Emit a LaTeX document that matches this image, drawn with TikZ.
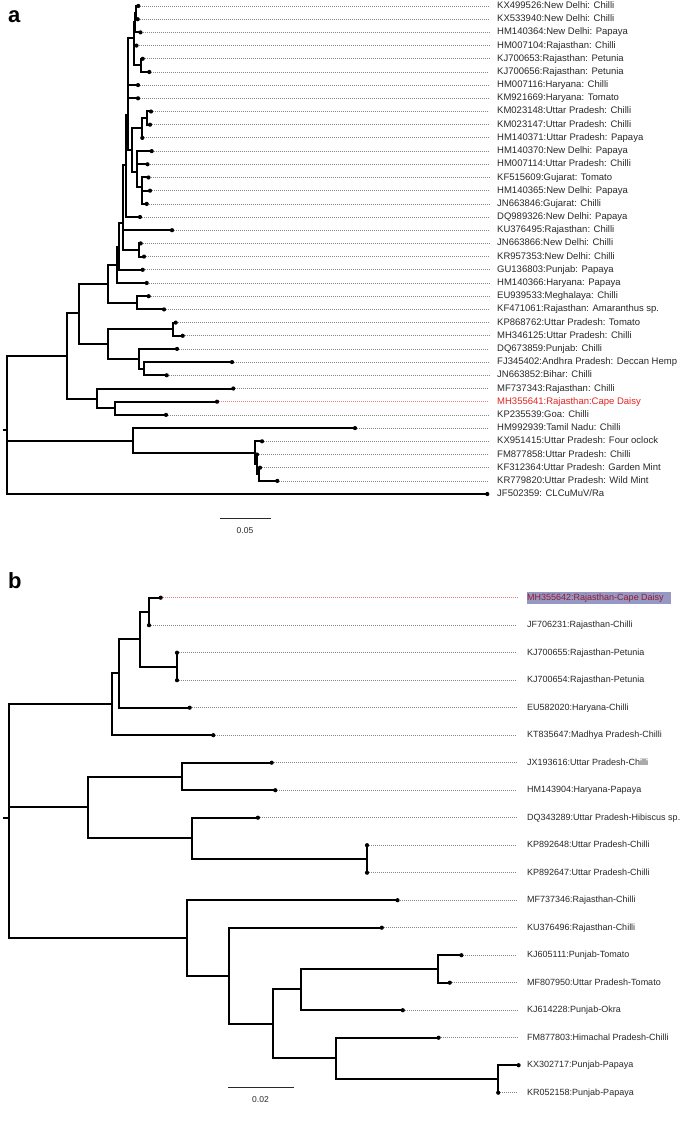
\documentclass[tikz,border=0pt]{standalone}
\usepackage{fontspec}
\setmainfont{Liberation Sans}
\definecolor{redlab}{RGB}{225,35,35}
\definecolor{reddot}{RGB}{235,130,130}
\definecolor{hlbox}{RGB}{150,152,196}
\definecolor{hltext}{RGB}{150,25,45}
\definecolor{dotgray}{RGB}{135,135,135}
\definecolor{labgray}{RGB}{40,40,40}
\tikzset{
 br/.style={line width=2pt, line join=miter},
 dots/.style={dotgray, line width=0.8pt, dash pattern=on 0.8pt off 1.2pt},
 laba/.style={anchor=west, inner xsep=8pt, inner ysep=0pt, text height=7pt, text depth=2pt, font=\fontsize{9.5}{11}\selectfont, text=labgray},
 labb/.style={anchor=west, inner xsep=10pt, inner ysep=0pt, text height=6.6pt, text depth=1.9pt, font=\fontsize{9}{10}\selectfont, text=labgray},
 panel/.style={anchor=north west, inner sep=0pt, font=\fontsize{22}{24}\selectfont\bfseries},
 scalelab/.style={font=\fontsize{8.5}{10}\selectfont, text=labgray, inner sep=0pt},
 sbar/.style={line width=0.9pt, labgray},
 hlstyle/.style={anchor=west, fill=hlbox, inner sep=0pt, minimum width=144pt, minimum height=12.3pt}
}
\newcommand\leafa[4]{\coordinate (#1) at (#2,#3); \node[laba] (l#1) at (489,#3) {#4}; \draw[dots] (#1) -- (l#1.west);}
\newcommand\leafb[4]{\coordinate (#1) at (#2,#3); \node[labb] (l#1) at (517,#3) {#4}; \draw[dots] (#1) -- (l#1.west);}
\begin{document}
\begin{tikzpicture}[x=1pt,y=-1pt]
\useasboundingbox (0,0) rectangle (685,1134);
\node[panel] (pa) at (8,10) {a};
\node[panel] (pb) at (8,572.5) {b};
% ---------- tree a leaves
\leafa{a0}{138.3}{6.0}{KX499526:New Delhi: Chilli}
\leafa{a1}{137.7}{19.2}{KX533940:New Delhi: Chilli}
\leafa{a2}{140.5}{32.4}{HM140364:New Delhi: Papaya}
\leafa{a3}{136.5}{45.6}{HM007104:Rajasthan: Chilli}
\leafa{a4}{142.7}{58.8}{KJ700653:Rajasthan: Petunia}
\leafa{a5}{149.3}{72.0}{KJ700656:Rajasthan: Petunia}
\leafa{a6}{138}{85.1}{HM007116:Haryana: Chilli}
\leafa{a7}{138}{98.3}{KM921669:Haryana: Tomato}
\leafa{a8}{151}{111.5}{KM023148:Uttar Pradesh: Chilli}
\leafa{a9}{150}{124.7}{KM023147:Uttar Pradesh: Chilli}
\leafa{a10}{142.3}{137.9}{HM140371:Uttar Pradesh: Papaya}
\leafa{a11}{151.7}{151.1}{HM140370:New Delhi: Papaya}
\leafa{a12}{147.5}{164.3}{HM007114:Uttar Pradesh: Chilli}
\leafa{a13}{148.5}{177.5}{KF515609:Gujarat: Tomato}
\leafa{a14}{150}{190.7}{HM140365:New Delhi: Papaya}
\leafa{a15}{146.7}{203.9}{JN663846:Gujarat: Chilli}
\leafa{a16}{140}{217.0}{DQ989326:New Delhi: Papaya}
\leafa{a17}{172}{230.2}{KU376495:Rajasthan: Chilli}
\leafa{a18}{140.7}{243.4}{JN663866:New Delhi: Chilli}
\leafa{a19}{144}{256.6}{KR957353:New Delhi: Chilli}
\leafa{a20}{142.7}{269.8}{GU136803:Punjab: Papaya}
\leafa{a21}{146.7}{283.0}{HM140366:Haryana: Papaya}
\leafa{a22}{148.7}{296.2}{EU939533:Meghalaya: Chilli}
\leafa{a23}{164}{309.4}{KF471061:Rajasthan: Amaranthus sp.}
\leafa{a24}{175.7}{322.6}{KP868762:Uttar Pradesh: Tomato}
\leafa{a25}{182.7}{335.8}{MH346125:Uttar Pradesh: Chilli}
\leafa{a26}{177}{348.9}{DQ673859:Punjab: Chilli}
\leafa{a27}{232}{362.1}{FJ345402:Andhra Pradesh: Deccan Hemp}
\leafa{a28}{166.7}{375.3}{JN663852:Bihar: Chilli}
\leafa{a29}{233.3}{388.5}{MF737343:Rajasthan: Chilli}
\coordinate (a30) at (217,401.7);
\node[laba,text=redlab] (la30) at (489,401.7) {MH355641:Rajasthan:Cape Daisy};
\draw[dots,reddot] (a30) -- (la30.west);
\leafa{a31}{166}{414.9}{KP235539:Goa: Chilli}
\leafa{a32}{355}{428.1}{HM992939:Tamil Nadu: Chilli}
\leafa{a33}{262}{441.3}{KX951415:Uttar Pradesh: Four oclock}
\leafa{a34}{257}{454.5}{FM877858:Uttar Pradesh: Chilli}
\leafa{a35}{260}{467.7}{KF312364:Uttar Pradesh: Garden Mint}
\leafa{a36}{277.3}{480.9}{KR779820:Uttar Pradesh: Wild Mint}
\leafa{a37}{487.3}{494.0}{JF502359: CLCuMuV/Ra}
% ---------- tree a internal nodes
\coordinate (rA) at (7.3,430);
\coordinate (rAs) at (2.5,430);
\coordinate (nA) at (66.7,356);
\coordinate (nB) at (79,313);
\coordinate (nC) at (96.7,398.7);
\coordinate (nD) at (108.3,284);
\coordinate (nE) at (108.3,344);
\coordinate (nF) at (116.7,265);
\coordinate (nG) at (136.7,302.8);
\coordinate (nX) at (119.3,246.7);
\coordinate (nV) at (123,223);
\coordinate (nW) at (139.3,250);
\coordinate (nU) at (125.5,165);
\coordinate (nP) at (128.3,115);
\coordinate (nQ) at (133.5,38.3);
\coordinate (nQb) at (134.5,22);
\coordinate (nQa) at (135.5,12.6);
\coordinate (nQc) at (140.5,65.4);
\coordinate (nT) at (131.7,150);
\coordinate (nK) at (141.7,128.3);
\coordinate (nKa) at (147.3,118.1);
\coordinate (nR) at (136.7,171.7);
\coordinate (nS) at (142.3,187.3);
\coordinate (nY) at (172.7,329.2);
\coordinate (nZ) at (139.3,359);
\coordinate (nZa) at (144.3,368.7);
\coordinate (nCC) at (114.7,408.3);
\coordinate (nM) at (132.7,441.3);
\coordinate (nN) at (255,452.7);
\coordinate (nNa) at (257,464.3);
\coordinate (nNb) at (259.3,474.3);
\begin{scope}[br]
\draw (rAs) -- (rA);
\draw (rA) |- (nA); \draw (rA) |- (nM); \draw (rA) |- (a37);
\draw (nA) |- (nB); \draw (nA) |- (nC);
\draw (nB) |- (nD); \draw (nB) |- (nE);
\draw (nD) |- (nF); \draw (nD) |- (nG);
\draw (nG) |- (a22); \draw (nG) |- (a23);
\draw (nF) |- (nX); \draw (nF) |- (a21);
\draw (nX) |- (nV); \draw (nX) |- (a20);
\draw (nV) |- (nU); \draw (nV) |- (a17); \draw (nV) |- (nW);
\draw (nW) |- (a18); \draw (nW) |- (a19);
\draw (nU) |- (nP); \draw (nU) |- (a16);
\draw (nP) |- (nQ); \draw (nP) |- (a6); \draw (nP) |- (a7); \draw (nP) |- (nT);
\draw (nQ) |- (nQb); \draw (nQ) |- (a3); \draw (nQ) |- (nQc);
\draw (nQb) |- (nQa); \draw (nQb) |- (a2);
\draw (nQa) |- (a0); \draw (nQa) |- (a1);
\draw (nQc) |- (a4); \draw (nQc) |- (a5);
\draw (nT) |- (nK); \draw (nT) |- (nR);
\draw (nK) |- (nKa); \draw (nK) |- (a10);
\draw (nKa) |- (a8); \draw (nKa) |- (a9);
\draw (nR) |- (a11); \draw (nR) |- (a12); \draw (nR) |- (nS);
\draw (nS) |- (a13); \draw (nS) |- (a14); \draw (nS) |- (a15);
\draw (nE) |- (nY); \draw (nE) |- (nZ);
\draw (nY) |- (a24); \draw (nY) |- (a25);
\draw (nZ) |- (a26); \draw (nZ) |- (nZa);
\draw (nZa) |- (a27); \draw (nZa) |- (a28);
\draw (nC) |- (a29); \draw (nC) |- (nCC);
\draw (nCC) |- (a30); \draw (nCC) |- (a31);
\draw (nM) |- (a32); \draw (nM) |- (nN);
\draw (nN) |- (a33); \draw (nN) |- (nNa);
\draw (nNa) |- (a34); \draw (nNa) |- (nNb);
\draw (nNb) |- (a35); \draw (nNb) |- (a36);
\end{scope}
\foreach \t in {a0,a1,a2,a3,a4,a5,a6,a7,a8,a9,a10,a11,a12,a13,a14,a15,a16,a17,a18,a19,a20,a21,a22,a23,a24,a25,a26,a27,a28,a29,a30,a31,a32,a33,a34,a35,a36,a37}
  \fill (\t) circle (2.1pt);
% scale bar a
\coordinate (sa1) at (219.5,518.5);
\coordinate (sa2) at (270.5,518.5);
\draw[sbar] (sa1) -- (sa2);
\node[scalelab] (sla) at (245,531) {0.05};
% ---------- tree b leaves
\coordinate (b0) at (160.7,597.7);
\node[hlstyle] (hlb) at (526.7,597.8) {};
\node[labb,text=hltext] (lb0) at (517,597.7) {MH355642:Rajasthan-Cape Daisy};
\draw[dots,reddot] (b0) -- (lb0.west);
\leafb{b1}{149}{625.2}{JF706231:Rajasthan-Chilli}
\leafb{b2}{177}{652.7}{KJ700655:Rajasthan-Petunia}
\leafb{b3}{177}{680.2}{KJ700654:Rajasthan-Petunia}
\leafb{b4}{189.7}{707.7}{EU582020:Haryana-Chilli}
\leafb{b5}{213.3}{735.2}{KT835647:Madhya Pradesh-Chilli}
\leafb{b6}{271.7}{762.7}{JX193616:Uttar Pradesh-Chilli}
\leafb{b7}{275.3}{790.2}{HM143904:Haryana-Papaya}
\leafb{b8}{257.9}{817.7}{DQ343289:Uttar Pradesh-Hibiscus sp.}
\leafb{b9}{367}{845.2}{KP892648:Uttar Pradesh-Chilli}
\leafb{b10}{367}{872.7}{KP892647:Uttar Pradesh-Chilli}
\leafb{b11}{397.5}{900.2}{MF737346:Rajasthan-Chilli}
\leafb{b12}{381.8}{927.7}{KU376496:Rajasthan-Chilli}
\leafb{b13}{461.4}{955.2}{KJ605111:Punjab-Tomato}
\leafb{b14}{449.8}{982.7}{MF807950:Uttar Pradesh-Tomato}
\leafb{b15}{402.8}{1010.2}{KJ614228:Punjab-Okra}
\leafb{b16}{438.6}{1037.7}{FM877803:Himachal Pradesh-Chilli}
\leafb{b17}{518.6}{1065.2}{KX302717:Punjab-Papaya}
\leafb{b18}{498.2}{1092.7}{KR052158:Punjab-Papaya}
% ---------- tree b internal nodes
\coordinate (rB) at (8.8,818);
\coordinate (rBs) at (3.2,818);
\coordinate (nb05) at (112.3,704.3);
\coordinate (nb04) at (119.3,673.3);
\coordinate (nb03) at (140,639);
\coordinate (nb01) at (149,611.5);
\coordinate (nb23) at (177,666.5);
\coordinate (nb610) at (88.4,807.3);
\coordinate (nb67) at (182,776.5);
\coordinate (nb810) at (192.3,838.3);
\coordinate (nb910) at (367,859);
\coordinate (nb1118) at (187,937.7);
\coordinate (nb1218) at (228.8,975.7);
\coordinate (nb1318) at (273,1024);
\coordinate (nb1315) at (300.7,989.3);
\coordinate (nb1314) at (437.9,969);
\coordinate (nb1618) at (335.8,1058.3);
\coordinate (nb1718) at (498.2,1079);
\begin{scope}[br]
\draw (rBs) -- (rB);
\draw (rB) |- (nb05); \draw (rB) |- (nb610); \draw (rB) |- (nb1118);
\draw (nb05) |- (nb04); \draw (nb05) |- (b5);
\draw (nb04) |- (nb03); \draw (nb04) |- (b4);
\draw (nb03) |- (nb01); \draw (nb03) |- (nb23);
\draw (nb01) |- (b0); \draw (nb01) |- (b1);
\draw (nb23) |- (b2); \draw (nb23) |- (b3);
\draw (nb610) |- (nb67); \draw (nb610) |- (nb810);
\draw (nb67) |- (b6); \draw (nb67) |- (b7);
\draw (nb810) |- (b8); \draw (nb810) |- (nb910);
\draw (nb910) |- (b9); \draw (nb910) |- (b10);
\draw (nb1118) |- (b11); \draw (nb1118) |- (nb1218);
\draw (nb1218) |- (b12); \draw (nb1218) |- (nb1318);
\draw (nb1318) |- (nb1315); \draw (nb1318) |- (nb1618);
\draw (nb1315) |- (nb1314); \draw (nb1315) |- (b15);
\draw (nb1314) |- (b13); \draw (nb1314) |- (b14);
\draw (nb1618) |- (b16); \draw (nb1618) |- (nb1718);
\draw (nb1718) |- (b17); \draw (nb1718) |- (b18);
\end{scope}
\foreach \t in {b0,b1,b2,b3,b4,b5,b6,b7,b8,b9,b10,b11,b12,b13,b14,b15,b16,b17,b18}
  \fill (\t) circle (2.1pt);
% scale bar b
\coordinate (sb1) at (228,1087.5);
\coordinate (sb2) at (293.5,1087.5);
\draw[sbar] (sb1) -- (sb2);
\node[scalelab] (slb) at (260.5,1100) {0.02};
\end{tikzpicture}
\end{document}
